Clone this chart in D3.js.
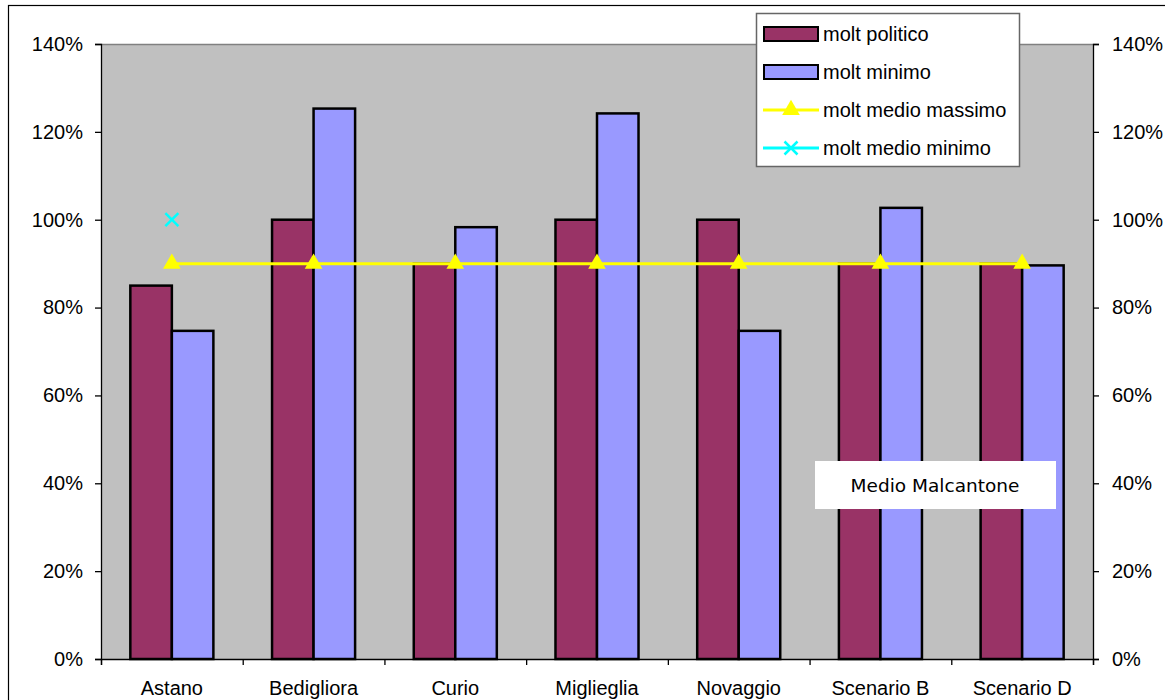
<!DOCTYPE html>
<html>
<head>
<meta charset="utf-8">
<script src="https://cdn.jsdelivr.net/npm/d3@7"></script>
<style>
  html, body { margin: 0; padding: 0; background: #fff; }
  svg { display: block; }
  text { font-family: "Liberation Sans", Arial, sans-serif; fill: #000; }
</style>
</head>
<body>
<svg id="chart" width="1165" height="700"></svg>
<script>
// Categories and series
const categories = ["Astano", "Bedigliora", "Curio", "Miglieglia", "Novaggio", "Scenario B", "Scenario D"];
const moltPolitico = [85, 100, 90, 100, 100, 90, 90];
const moltMinimo = [74.7, 125.3, 98.3, 124.2, 74.7, 102.7, 89.6];
const moltMedioMassimo = [90, 90, 90, 90, 90, 90, 90];
const moltMedioMinimo = [100, null, null, null, null, null, null];
const yTicks = [0, 20, 40, 60, 80, 100, 120, 140];
const seriesNames = ["molt politico", "molt minimo", "molt medio massimo", "molt medio minimo"];
const annotation = "Medio Malcantone";

const svg = d3.select("#chart");
const plot = { left: 101, right: 1093, top: 44, bottom: 659 };
const FONT = "20px";

// Outer chart frame
svg.append("rect")
  .attr("x", 8.5).attr("y", 5.5).attr("width", 1300).attr("height", 900)
  .attr("fill", "#fff").attr("stroke", "#000").attr("stroke-width", 1.2);

const x = d3.scaleBand().domain(categories)
  .range([plot.left, plot.right]).paddingInner(0.414).paddingOuter(0.207);
const xs = d3.scaleBand().domain(["p", "m"]).range([0, x.bandwidth()]);
const y = d3.scaleLinear().domain([0, 140]).range([plot.bottom, plot.top]);

// Plot background
svg.append("rect")
  .attr("x", plot.left).attr("y", plot.top)
  .attr("width", plot.right - plot.left).attr("height", plot.bottom - plot.top)
  .attr("fill", "#c0c0c0");
svg.append("line")
  .attr("x1", plot.left).attr("x2", plot.right).attr("y1", plot.top + 0.5).attr("y2", plot.top + 0.5)
  .attr("stroke", "#808080").attr("stroke-width", 1.5);

// Bars
const bars = svg.append("g");
function drawBars(values, key, color) {
  bars.selectAll("rect." + key).data(values).enter().append("rect")
    .attr("class", key)
    .attr("x", (d, i) => x(categories[i]) + xs(key))
    .attr("y", d => y(d))
    .attr("width", xs.bandwidth())
    .attr("height", d => y(0) - y(d))
    .attr("fill", color).attr("stroke", "#000").attr("stroke-width", 2.5);
}
drawBars(moltPolitico, "p", "#993366");
drawBars(moltMinimo, "m", "#9999ff");

// Axes
const fmt = d => d + "%";
const leftAxis = svg.append("g").attr("transform", `translate(${plot.left},0)`)
  .call(d3.axisLeft(y).tickValues(yTicks).tickFormat(fmt).tickSize(6).tickPadding(12));
const rightAxis = svg.append("g").attr("transform", `translate(${plot.right},0)`)
  .call(d3.axisRight(y).tickValues(yTicks).tickFormat(fmt).tickSize(6).tickPadding(13));
const xb = d3.scaleLinear().domain([0, categories.length]).range([plot.left, plot.right]);
const bottomTicks = svg.append("g").attr("transform", `translate(0,${plot.bottom})`)
  .call(d3.axisBottom(xb).tickValues(d3.range(categories.length + 1)).tickFormat("").tickSize(6));
const bottomLabels = svg.append("g").attr("transform", `translate(0,${plot.bottom})`)
  .call(d3.axisBottom(x).tickSize(0).tickPadding(22));
bottomLabels.select(".domain").remove();
[leftAxis, rightAxis, bottomTicks].forEach(g => {
  g.select(".domain").attr("stroke", "#000").attr("stroke-width", 1.3);
  g.selectAll(".tick line").attr("stroke", "#000").attr("stroke-width", 1.3);
});
svg.selectAll(".tick text")
  .style("font-family", "'Liberation Sans', Arial, sans-serif")
  .style("font-size", FONT).attr("fill", "#000");

// Line series
const cx = i => x(categories[i]) + x.bandwidth() / 2;
const line = d3.line().defined(d => d != null).x((d, i) => cx(i)).y(d => y(d));
svg.append("path").datum(moltMedioMassimo)
  .attr("d", line).attr("fill", "none").attr("stroke", "#ffff00").attr("stroke-width", 3);
const tri = d3.symbol().type(d3.symbolTriangle).size(135);
svg.append("g").selectAll("path").data(moltMedioMassimo).enter().append("path")
  .attr("d", tri).attr("transform", (d, i) => `translate(${cx(i)},${y(d)})`)
  .attr("fill", "#ffff00");

const crossPath = s => `M${-s},${-s}L${s},${s}M${-s},${s}L${s},${-s}`;
svg.append("g").selectAll("path").data(moltMedioMinimo.map((v, i) => [v, i]).filter(d => d[0] != null))
  .enter().append("path")
  .attr("d", crossPath(6.5)).attr("transform", d => `translate(${cx(d[1])},${y(d[0])})`)
  .attr("stroke", "#00ffff").attr("stroke-width", 2.5).attr("fill", "none");

// Annotation box
svg.append("rect").attr("x", 815).attr("y", 461).attr("width", 241).attr("height", 48).attr("fill", "#fff");
svg.append("text").attr("x", 935).attr("y", 492).attr("text-anchor", "middle")
  .style("font-family", "'DejaVu Sans', Tahoma, sans-serif").style("font-size", "18.5px")
  .text(annotation);

// Legend
const lg = svg.append("g");
lg.append("rect").attr("x", 756.5).attr("y", 13.5).attr("width", 263).attr("height", 153)
  .attr("fill", "#fff").attr("stroke", "#666").attr("stroke-width", 1.5);
const rowY = [34, 72, 110, 148];
const swatchColors = ["#993366", "#9999ff"];
[0, 1].forEach(i => {
  lg.append("rect").attr("x", 764).attr("y", rowY[i] - 7).attr("width", 54).attr("height", 14)
    .attr("fill", swatchColors[i]).attr("stroke", "#000").attr("stroke-width", 2);
});
lg.append("line").attr("x1", 763).attr("x2", 819).attr("y1", rowY[2]).attr("y2", rowY[2])
  .attr("stroke", "#ffff00").attr("stroke-width", 3);
lg.append("path").attr("d", tri).attr("transform", `translate(791,${rowY[2]})`).attr("fill", "#ffff00");
lg.append("line").attr("x1", 763).attr("x2", 819).attr("y1", rowY[3]).attr("y2", rowY[3])
  .attr("stroke", "#00ffff").attr("stroke-width", 3);
lg.append("path").attr("d", crossPath(6.5)).attr("transform", `translate(791,${rowY[3]})`)
  .attr("stroke", "#00ffff").attr("stroke-width", 2.5).attr("fill", "none");
seriesNames.forEach((n, i) => {
  lg.append("text").attr("x", 823).attr("y", rowY[i] + 7).style("font-size", FONT).text(n);
});
</script>
</body>
</html>
